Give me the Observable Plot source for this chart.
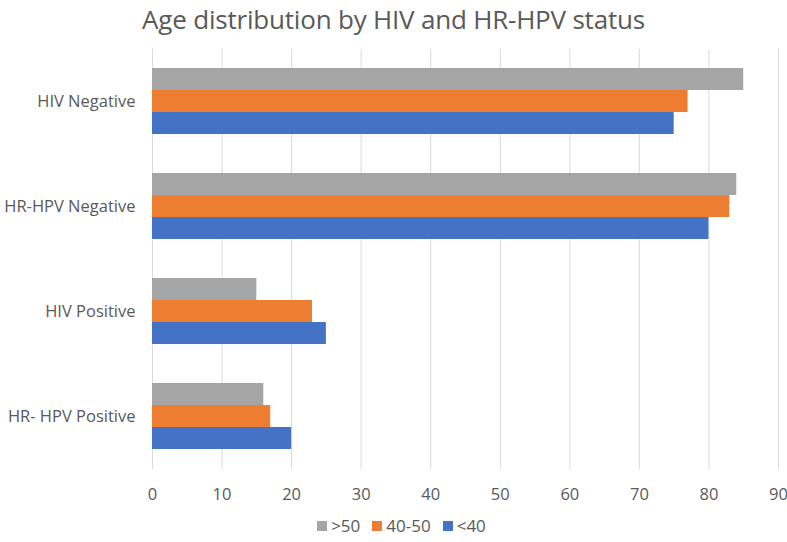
<!DOCTYPE html>
<html>
<head>
<meta charset="utf-8">
<script src="https://cdn.jsdelivr.net/npm/d3@7"></script>
<script src="https://cdn.jsdelivr.net/npm/@observablehq/plot@0.6"></script>
<style>
  html, body { margin: 0; padding: 0; background: #fff; }
  body { width: 787px; height: 542px; overflow: hidden; font-family: "Open Sans", sans-serif; color: #595959; }
  #title { height: 40px; line-height: 38px; text-align: center; font-size: 26px; color: #595959; white-space: nowrap; letter-spacing: -0.2px; }
  #chart svg { display: block; }
  #legend { display: flex; justify-content: center; align-items: center; gap: 12px; font-size: 17px; color: #595959; height: 33px; padding-left: 16px; }
  #legend .item { display: flex; align-items: center; gap: 4px; }
  #legend .sw { width: 10px; height: 10px; display: inline-block; }
</style>
</head>
<body>
<div id="title">Age distribution by HIV and HR-HPV status</div>
<div id="chart"></div>
<div id="legend"></div>
<script>
const categories = ["HIV Negative", "HR-HPV Negative", "HIV Positive", "HR- HPV Positive"];
const seriesNames = [">50", "40-50", "<40"];
const seriesColors = ["#A5A5A5", "#ED7D31", "#4472C4"];
const over50 = [85, 84, 15, 16];
const from40to50 = [77, 83, 23, 17];
const under40 = [75, 80, 25, 20];
const xTicks = [0, 10, 20, 30, 40, 50, 60, 70, 80, 90];

const seriesValues = [over50, from40to50, under40];
const barOffsets = [-22, 0, 22];

const chart = Plot.plot({
  width: 787,
  height: 469,
  marginLeft: 152,
  marginRight: 9,
  marginTop: 9,
  marginBottom: 40,
  style: { fontFamily: "Open Sans, sans-serif", fontSize: "16.5px", color: "#595959", background: "white", overflow: "visible" },
  x: { domain: [0, 90], ticks: xTicks, tickSize: 0, tickPadding: 19, label: null, tickFormat: d => String(d) },
  y: { domain: categories, paddingInner: 0.79, paddingOuter: 0.395, tickSize: 0, tickPadding: 17, label: null },
  marks: [
    Plot.ruleX(xTicks, { stroke: "#D9D9D9", strokeWidth: 1 }),
    ...seriesValues.map((vals, s) =>
      Plot.barX(categories, {
        x1: 0,
        x2: (d, i) => vals[i],
        y: d => d,
        dy: barOffsets[s],
        fill: seriesColors[s]
      })
    )
  ]
});
document.getElementById("chart").appendChild(chart);

const legend = document.getElementById("legend");
seriesNames.forEach((name, i) => {
  const item = document.createElement("span");
  item.className = "item";
  const sw = document.createElement("span");
  sw.className = "sw";
  sw.style.background = seriesColors[i];
  const label = document.createElement("span");
  label.textContent = name;
  item.appendChild(sw);
  item.appendChild(label);
  legend.appendChild(item);
});
</script>
</body>
</html>
